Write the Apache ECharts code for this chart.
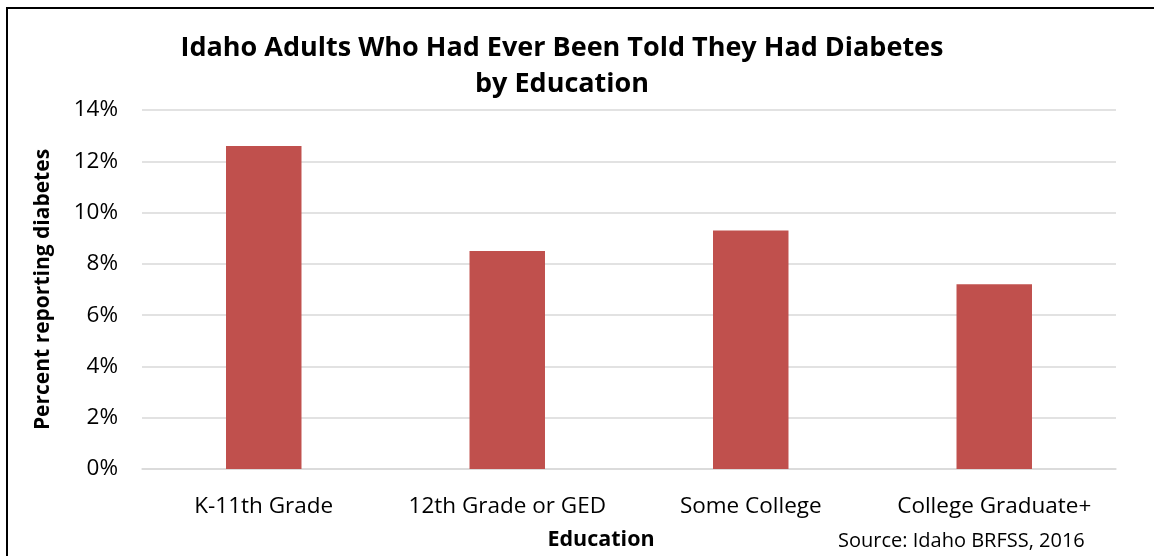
<!DOCTYPE html>
<html><head><meta charset="utf-8">
<script src="https://cdn.jsdelivr.net/npm/echarts@6/dist/echarts.min.js"></script>
<style>html,body{margin:0;padding:0;background:#fff;overflow:hidden}#c{width:1154px;height:556px}</style>
</head><body><div id="c"></div>
<script>
const categories = ['K-11th Grade', '12th Grade or GED', 'Some College', 'College Graduate+'];
const values = [12.6, 8.5, 9.3, 7.2];
const yTicks = [0, 2, 4, 6, 8, 10, 12, 14];
const FONT = 'Open Sans';
const chart = echarts.init(document.getElementById('c'));
chart.setOption({
  animation: false,
  backgroundColor: '#fff',
  title: {
    text: 'Idaho Adults Who Had Ever Been Told They Had Diabetes\nby Education',
    left: 557, top: 25, textAlign: 'center',
    textStyle: { fontFamily: FONT, fontWeight: 'bold', fontSize: 27, lineHeight: 36, color: '#000' }
  },
  grid: { left: 142, right: 38, top: 110, bottom: 87, containLabel: false, outerBoundsMode: 'none' },
  xAxis: {
    type: 'category', data: categories,
    name: 'Education', nameLocation: 'middle', nameGap: 60,
    nameTextStyle: { fontFamily: FONT, fontWeight: 'bold', fontSize: 21.5, color: '#000', padding: [0, 56, 0, 0] },
    axisLine: { show: true, lineStyle: { color: '#D9D9D9', width: 1.5 } },
    axisTick: { show: false },
    axisLabel: { fontFamily: FONT, fontSize: 22.5, color: '#000', margin: 26, interval: 0, hideOverlap: false }
  },
  yAxis: {
    type: 'value', min: yTicks[0], max: yTicks[yTicks.length - 1], interval: 2,
    name: 'Percent reporting diabetes', nameLocation: 'middle', nameGap: 88, nameRotate: 90,
    nameTextStyle: { fontFamily: FONT, fontWeight: 'bold', fontSize: 21, color: '#000' },
    axisLine: { show: false }, axisTick: { show: false },
    axisLabel: { fontFamily: FONT, fontSize: 22.5, color: '#000', margin: 24, formatter: v => v + '%' },
    splitLine: { lineStyle: { color: '#D9D9D9', width: 1.5 } }
  },
  series: [{
    type: 'bar', data: values, barWidth: '31%',
    itemStyle: { color: '#C0504D' }
  }],
  graphic: [
    { type: 'rect', shape: { x: 7, y: 8, width: 1160, height: 560 }, style: { fill: 'none', stroke: '#000', lineWidth: 2 }, silent: true },
    { type: 'text', left: 838, top: 531, style: { text: 'Source: Idaho BRFSS, 2016', fontFamily: FONT, fontSize: 20, fill: '#000' } }
  ]
});
</script></body></html>
